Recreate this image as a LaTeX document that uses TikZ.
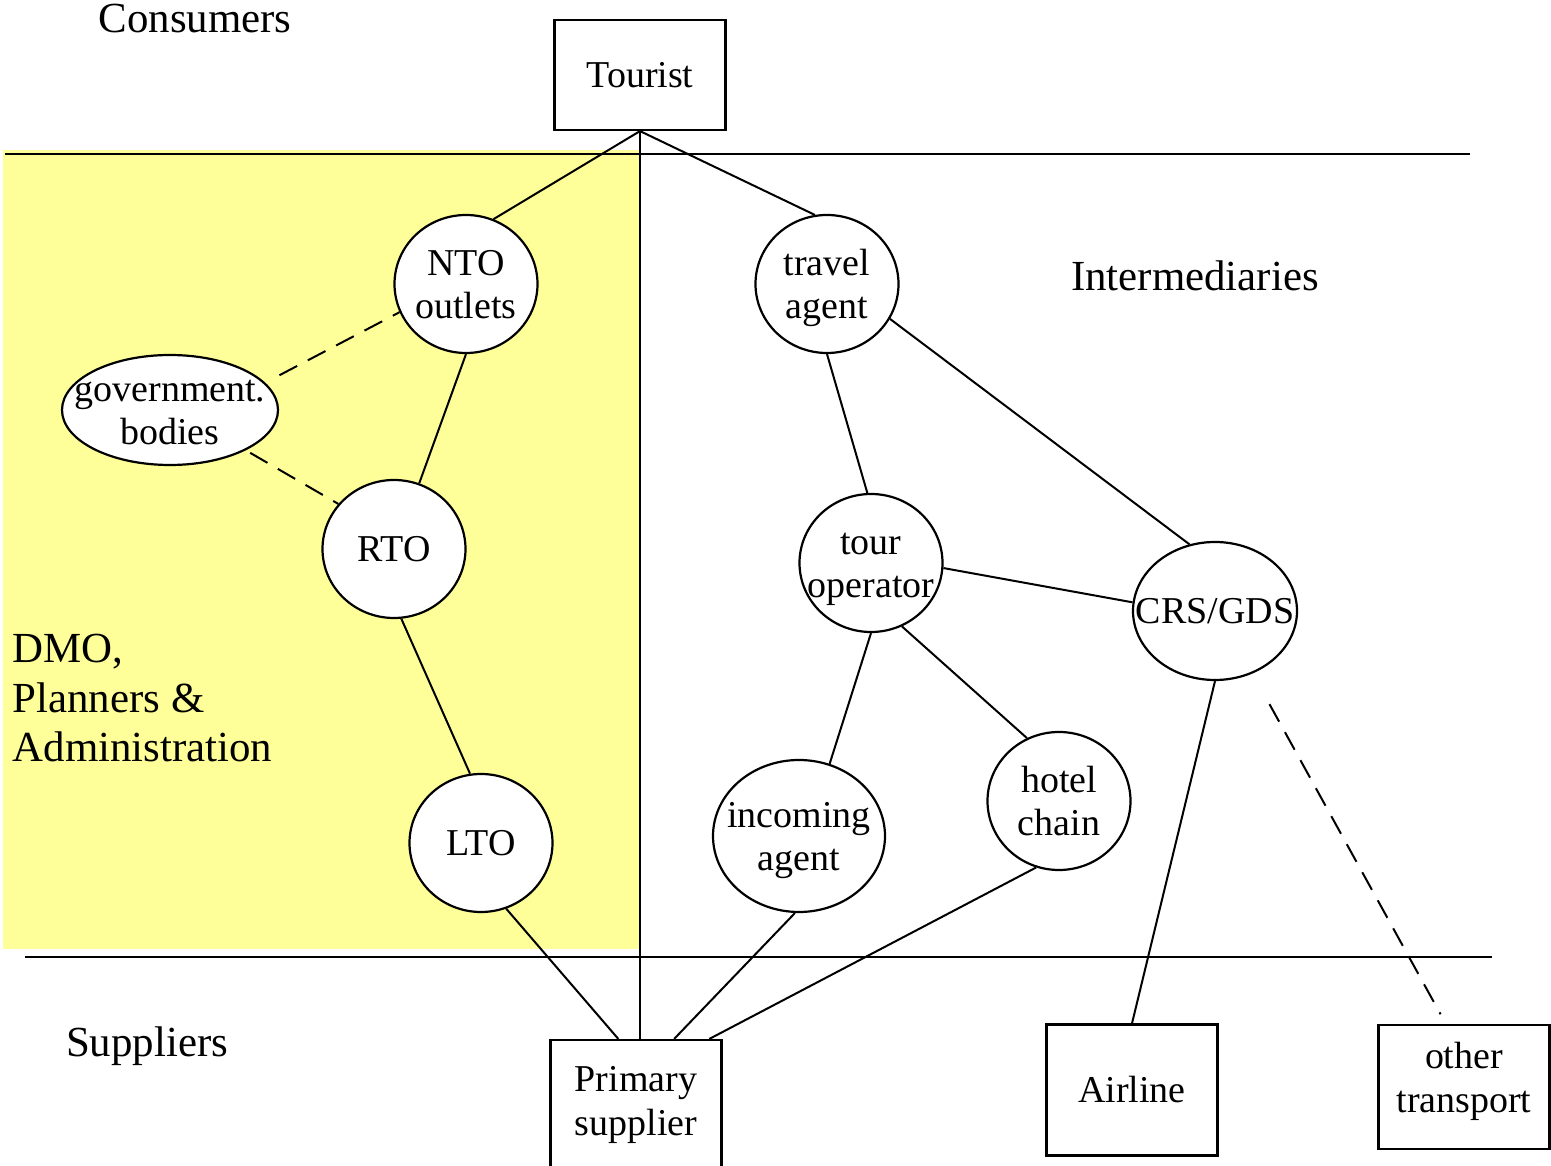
\documentclass[tikz,border=0pt]{standalone}
\usepackage{fontspec}
\setmainfont{Liberation Serif}
\usetikzlibrary{shapes.geometric}
\definecolor{dmoyellow}{RGB}{255,255,153}
% centred text that does not widen the ellipse
\newcommand{\ntext}[1]{\makebox[0pt]{\raisebox{-1.2pt}[\height][\depth]{%
  \begin{tabular}{@{}c@{}}#1\end{tabular}}}}

\begin{document}
\begin{tikzpicture}[x=0.1mm,y=-0.1mm,
  every node/.style={font=\fontsize{10.8}{12.4}\selectfont},
  blob/.style={draw, ellipse, fill=white, line width=0.22mm, inner sep=0pt,
    minimum width=14.3mm, minimum height=13.8mm},
  pbox/.style={draw, rectangle, fill=white, line width=0.22mm, inner sep=0pt,
    minimum width=17.1mm, align=center},
  conn/.style={line width=0.2mm},
  dashconn/.style={line width=0.2mm, dash pattern=on 2mm off 1.2mm},
  sepline/.style={line width=0.28mm},
  lbl/.style={font=\fontsize{12.2}{14.2}\selectfont}]

  \useasboundingbox (0,0) rectangle (1551,1166);

  % DMO area and the two layer lines
  \fill[dmoyellow] (3,150) rectangle (640,949);
  \draw[sepline] (5,154) -- (1470,154);
  \draw[sepline] (25,957) -- (1492,957);

  \node[lbl,anchor=base] (consumers) at (195,33) {Consumers};
  \node[lbl,anchor=base] (interm) at (1195,291) {Intermediaries};
  \node[lbl,anchor=base] (suppliers) at (147,1056) {Suppliers};
  \node[lbl,anchor=base west,align=left,inner sep=0pt,
    font=\fontsize{12.2}{14.2}\selectfont]
    (dmo) at (12,762) {DMO,\\Planners \&\\Administration};

  % boxes
  \node[pbox,minimum height=11mm] (tourist) at (640,75) {Tourist};
  \node[pbox,minimum height=13mm] (primary) at (636,1105) {Primary\\supplier};
  \node[pbox,minimum height=13.1mm] (airline) at (1132,1090) {Airline};
  \node[pbox,minimum height=12.4mm] (other) at (1464,1087)
    {\raisebox{1.5pt}[\height][\depth]{\begin{tabular}{@{}c@{}}other\\transport\end{tabular}}};

  % round nodes
  \node[blob] (nto) at (466,284) {\ntext{NTO\\outlets}};
  \node[blob,minimum width=21.6mm,minimum height=11mm,inner ysep=-1mm] (gov)
    at (170,410) {\ntext{government.\\bodies}};
  \node[blob] (rto) at (394,549) {RTO};
  \node[blob] (lto) at (481,843) {LTO};
  \node[blob] (travel) at (827,284) {\ntext{travel\\agent}};
  \node[blob] (tourop) at (871,563) {\ntext{tour\\operator}};
  \node[blob,minimum width=16.4mm] (crs) at (1215,611) {\ntext{CRS/GDS}};
  \node[blob,minimum width=17.2mm,minimum height=15.2mm] (incoming) at (799,836)
    {\ntext{incoming\\agent}};
  \node[blob] (hotel) at (1059,801) {\ntext{hotel\\chain}};

  % connectors
  \draw[conn] (tourist.south) -- (nto.67);
  \draw[conn] (tourist.south) -- (travel.100);
  \draw[conn] (tourist.south) -- (tourist.south |- primary.north);
  \draw[conn] (nto.south) -- (rto.69);
  \draw[dashconn,shorten <=1.6mm] (gov.16) -- (nto.203);
  \draw[dashconn,shorten <=0.5mm] (gov.-28) -- (rto.141);
  \draw[conn] (rto.-84) -- (lto.99);
  \draw[conn] (lto.-69) -- (primary.105);
  \draw[conn] (travel.south) -- (tourop.93);
  \draw[conn] (travel.-29) -- (crs.111);
  \draw[conn] (tourop.-4) -- (crs.174);
  \draw[conn] (tourop.south) -- (incoming.67);
  \draw[conn] (tourop.-64) -- (hotel.117);
  \draw[conn] (incoming.-93) -- (primary.60);
  \draw[conn] (hotel.251) -- (primary.42.5);
  \draw[conn] (crs.south) -- (airline.north);
  \draw[dashconn,shorten <=3.5mm,shorten >=1.1mm] (crs.-59) -- (other.106);
\end{tikzpicture}
\end{document}
